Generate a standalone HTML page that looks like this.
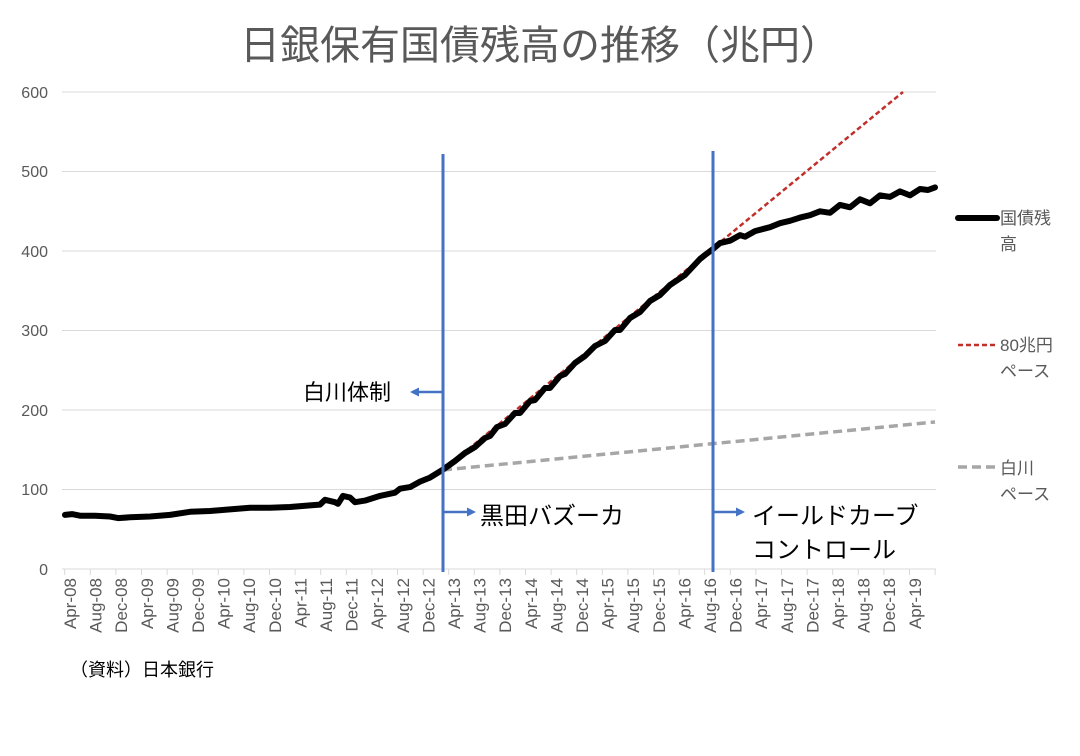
<!DOCTYPE html>
<html><head><meta charset="utf-8"><style>
body{margin:0;background:#fff}
svg{display:block}
text{font-family:"Liberation Sans","Noto Sans CJK JP",sans-serif}
</style></head><body>
<svg width="1080" height="756" viewBox="0 0 1080 756" xmlns="http://www.w3.org/2000/svg">
<text x="540" y="59" text-anchor="middle" font-size="40" fill="#595959">日銀保有国債残高の推移（兆円）</text>
<g stroke="#d9d9d9" stroke-width="1">
<line x1="62" y1="92" x2="936" y2="92"/><line x1="62" y1="171.5" x2="936" y2="171.5"/>
<line x1="62" y1="251" x2="936" y2="251"/><line x1="62" y1="330.5" x2="936" y2="330.5"/>
<line x1="62" y1="410" x2="936" y2="410"/><line x1="62" y1="489.5" x2="936" y2="489.5"/>
<line x1="62" y1="569" x2="936" y2="569"/>
<path d="M64.7 569v6M90.3 569v6M115.9 569v6M141.5 569v6M167.1 569v6M192.7 569v6M218.3 569v6M243.9 569v6M269.5 569v6M295.1 569v6M320.7 569v6M346.3 569v6M371.9 569v6M397.5 569v6M423.1 569v6M448.7 569v6M474.3 569v6M499.9 569v6M525.5 569v6M551.1 569v6M576.7 569v6M602.3 569v6M627.9 569v6M653.5 569v6M679.1 569v6M704.7 569v6M730.3 569v6M755.9 569v6M781.5 569v6M807.1 569v6M832.7 569v6M858.3 569v6M883.9 569v6M909.5 569v6M935.1 569v6"/>
</g>
<g font-size="16" fill="#595959" text-anchor="end">
<text x="48" y="98">600</text><text x="48" y="177">500</text><text x="48" y="257">400</text>
<text x="48" y="336">300</text><text x="48" y="416">200</text><text x="48" y="495">100</text><text x="48" y="575">0</text>
</g>
<g font-size="17" fill="#595959" text-anchor="end">
<text transform="translate(76,578) rotate(-90)">Apr-08</text>
<text transform="translate(101.6,578) rotate(-90)">Aug-08</text>
<text transform="translate(127.2,578) rotate(-90)">Dec-08</text>
<text transform="translate(152.8,578) rotate(-90)">Apr-09</text>
<text transform="translate(178.4,578) rotate(-90)">Aug-09</text>
<text transform="translate(204,578) rotate(-90)">Dec-09</text>
<text transform="translate(229.6,578) rotate(-90)">Apr-10</text>
<text transform="translate(255.2,578) rotate(-90)">Aug-10</text>
<text transform="translate(280.8,578) rotate(-90)">Dec-10</text>
<text transform="translate(306.4,578) rotate(-90)">Apr-11</text>
<text transform="translate(332,578) rotate(-90)">Aug-11</text>
<text transform="translate(357.6,578) rotate(-90)">Dec-11</text>
<text transform="translate(383.2,578) rotate(-90)">Apr-12</text>
<text transform="translate(408.8,578) rotate(-90)">Aug-12</text>
<text transform="translate(434.4,578) rotate(-90)">Dec-12</text>
<text transform="translate(460,578) rotate(-90)">Apr-13</text>
<text transform="translate(485.6,578) rotate(-90)">Aug-13</text>
<text transform="translate(511.2,578) rotate(-90)">Dec-13</text>
<text transform="translate(536.8,578) rotate(-90)">Apr-14</text>
<text transform="translate(562.4,578) rotate(-90)">Aug-14</text>
<text transform="translate(588,578) rotate(-90)">Dec-14</text>
<text transform="translate(613.6,578) rotate(-90)">Apr-15</text>
<text transform="translate(639.2,578) rotate(-90)">Aug-15</text>
<text transform="translate(664.8,578) rotate(-90)">Dec-15</text>
<text transform="translate(690.4,578) rotate(-90)">Apr-16</text>
<text transform="translate(716,578) rotate(-90)">Aug-16</text>
<text transform="translate(741.6,578) rotate(-90)">Dec-16</text>
<text transform="translate(767.2,578) rotate(-90)">Apr-17</text>
<text transform="translate(792.8,578) rotate(-90)">Aug-17</text>
<text transform="translate(818.4,578) rotate(-90)">Dec-17</text>
<text transform="translate(844,578) rotate(-90)">Apr-18</text>
<text transform="translate(869.6,578) rotate(-90)">Aug-18</text>
<text transform="translate(895.2,578) rotate(-90)">Dec-18</text>
<text transform="translate(920.8,578) rotate(-90)">Apr-19</text>
</g>
<line x1="443" y1="470" x2="903" y2="92" stroke="#c0302a" stroke-width="2.5" stroke-dasharray="5,3"/>
<line x1="443" y1="470" x2="935" y2="422" stroke="#a6a6a6" stroke-width="3.5" stroke-dasharray="9,5"/>
<polyline fill="none" stroke="#000" stroke-width="6" stroke-linejoin="round" stroke-linecap="round" points="65,514.9 72,514.1 80,515.7 95,515.7 110,516.5 118,518.1 130,517.3 150,516.5 170,514.9 190,511.8 210,511 230,509.4 250,507.8 270,507.8 290,507 310,505.4 320,504.6 325,499.8 335,502.2 338,503.8 343,495.9 350,497.5 355,502.2 365,500.6 380,495.9 395,492.7 400,488.7 410,487.1 420,481.6 430,477.6 443,469.6 455,461 465,453 475,447 485,438 490,436 497,427 505,424 515,413 520,413 530,401 535,400 545,388 550,388 560,376 565,374 575,363 585,356 595,346 605,341 615,330 620,330 630,318 640,312 650,301 660,295 670,285 685,275 700,259 705,255 713,249 720,243.1 730,240.7 740,235.1 745,236.7 755,231.1 770,227.2 780,223.2 790,220.8 800,217.6 810,215.2 820,211.3 830,212.8 840,204.9 850,207.3 860,199.3 870,203.3 880,195.4 890,196.9 900,191.4 910,195.4 920,189 928,190 935,187.4"/>
<line x1="443" y1="154" x2="443" y2="572" stroke="#4472c4" stroke-width="3"/>
<line x1="713" y1="151" x2="713" y2="572" stroke="#4472c4" stroke-width="3"/>
<g stroke="#4472c4" stroke-width="2.5" fill="#4472c4">
<line x1="443" y1="392" x2="418" y2="392"/><polygon points="410,392 419,387.5 419,396.5" stroke="none"/>
<line x1="443" y1="512" x2="468" y2="512"/><polygon points="476,512 467,507.5 467,516.5" stroke="none"/>
<line x1="713" y1="512" x2="737" y2="512"/><polygon points="745,512 736,507.5 736,516.5" stroke="none"/>
</g>
<g font-size="24" fill="#000">
<text x="303" y="400" font-size="22">白川体制</text>
<text x="480" y="524">黒田バズーカ</text>
<text x="752" y="524">イールドカーブ</text>
<text x="752" y="558">コントロール</text>
</g>
<line x1="958" y1="218" x2="997" y2="218" stroke="#000" stroke-width="6" stroke-linecap="round"/>
<line x1="958" y1="345" x2="997" y2="345" stroke="#c0302a" stroke-width="2.5" stroke-dasharray="5,3"/>
<line x1="958" y1="467" x2="997" y2="467" stroke="#a6a6a6" stroke-width="3.5" stroke-dasharray="9,5"/>
<g font-size="17" fill="#595959">
<text x="1000" y="224">国債残</text><text x="1000" y="250">高</text>
<text x="1000" y="351">80兆円</text><text x="1000" y="377">ペース</text>
<text x="1000" y="474">白川</text><text x="1000" y="500">ペース</text>
</g>
<text x="70" y="676" font-size="18" fill="#000">（資料）日本銀行</text>
</svg>
</body></html>
